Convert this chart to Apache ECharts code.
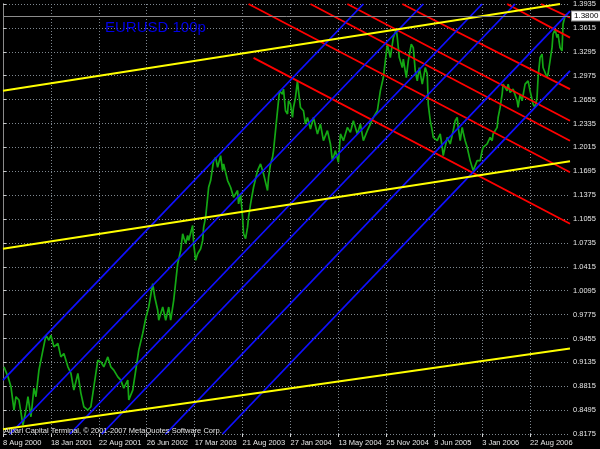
<!DOCTYPE html>
<html>
<head>
<meta charset="utf-8">
<script src="https://cdn.jsdelivr.net/npm/echarts@6/dist/echarts.min.js"></script>
<style>
html,body{margin:0;padding:0;background:#000;}
#chart{width:600px;height:449px;}
</style>
</head>
<body>
<div id="chart"></div>
<script>
// ---- data ----
const BASE = 0.8175;          // lowest price label
const STEP = 0.032;           // price label step
const TOP = 1.3935;           // highest price label
const CURRENT = 1.3800;       // last price
const LAST_BAR = 568;

const dateLabels = ['8 Aug 2000','18 Jan 2001','22 Aug 2001','26 Jun 2002','17 Mar 2003','21 Aug 2003',
  '27 Jan 2004','13 May 2004','25 Nov 2004','9 Jun 2005','3 Jan 2006','22 Aug 2006'];
const dateBars = [0,48,96,144,192,240,288,336,384,432,480,528];

const priceBars = [1,5,8,11,13,16,20,23,25,28,31,33,36,40,43,46,48,51,55,58,61,65,68,71,75,78,81,85,88,91,
  95,98,101,105,108,111,115,118,121,125,126,130,133,136,140,143,146,150,152,155,156,160,163,166,168,171,175,178,180,181,
  183,185,186,190,191,193,195,198,200,201,203,205,206,208,211,213,215,218,220,221,225,228,231,235,236,238,240,241,243,245,
  246,248,251,255,258,261,265,266,268,270,271,273,275,277,280,281,283,285,286,288,290,291,293,295,296,298,301,303,305,308,
  311,315,318,321,325,328,330,333,336,338,341,345,348,351,355,358,361,365,368,371,375,378,381,383,385,388,391,394,395,397,
  400,401,404,406,409,411,413,415,417,420,423,425,426,428,430,431,435,438,440,441,445,448,451,453,455,456,458,460,461,463,
  465,468,471,475,478,480,481,485,488,490,491,495,496,498,500,501,503,505,506,508,511,515,516,518,520,523,526,528,531,533,
  535,536,538,540,541,545,546,548,550,551,553,555,556,558,560,561,563,565];

const priceClose = [0.9075,0.8941,0.8807,0.8496,0.8674,0.8630,0.8295,0.8496,0.8674,0.8406,
  0.8790,0.8674,0.9030,0.9298,0.9498,0.9431,0.9498,0.9342,0.9387,0.9208,
  0.9254,0.9075,0.8990,0.8763,0.8986,0.8723,0.8540,0.8496,0.8540,0.8807,
  0.9164,0.9141,0.9075,0.9208,0.9075,0.9030,0.8941,0.8897,0.8790,0.8897,
  0.8630,0.8763,0.9030,0.9298,0.9525,0.9725,0.9876,1.0189,1.0010,0.9832,
  0.9699,0.9876,0.9699,0.9876,0.9699,0.9966,1.0456,1.0634,1.0857,1.0812,
  1.0728,1.0835,1.0768,1.0968,1.0728,1.0501,1.0590,1.0657,1.0768,1.0946,
  1.1079,1.1346,1.1480,1.1570,1.1837,1.1881,1.1747,1.1904,1.1703,1.1793,
  1.1570,1.1480,1.1346,1.1436,1.1258,1.1392,1.1079,1.0857,1.0791,1.0946,
  1.1079,1.1258,1.1480,1.1703,1.1793,1.1659,1.1436,1.1614,1.1793,1.1881,
  1.1971,1.2238,1.2505,1.2772,1.2728,1.2795,1.2505,1.2461,1.2639,1.2595,
  1.2416,1.2549,1.2683,1.2906,1.2772,1.2549,1.2505,1.2327,1.2416,1.2261,
  1.2416,1.2194,1.2327,1.2104,1.2238,1.2060,1.1837,1.1971,1.1814,1.2194,
  1.2104,1.2282,1.2215,1.2371,1.2194,1.2327,1.2104,1.2238,1.2327,1.2416,
  1.2505,1.2772,1.2950,1.3173,1.3396,1.3217,1.3485,1.3597,1.3485,1.3217,
  1.3084,1.3196,1.2950,1.3173,1.3396,1.3351,1.3040,1.2906,1.3084,1.2862,
  1.3084,1.2996,1.2595,1.2371,1.2238,1.2148,1.2104,1.2194,1.2015,1.1904,
  1.2148,1.2060,1.2238,1.2371,1.2416,1.2282,1.2104,1.2282,1.2215,1.2104,
  1.2015,1.1837,1.1703,1.1837,1.1837,1.1971,1.2015,1.2060,1.2148,1.2104,
  1.2194,1.2282,1.2416,1.2549,1.2728,1.2862,1.2883,1.2772,1.2862,1.2750,
  1.2795,1.2639,1.2549,1.2728,1.2639,1.2862,1.2906,1.2772,1.2595,1.2549,
  1.2683,1.2950,1.3217,1.3263,1.3084,1.2950,1.2996,1.3173,1.3351,1.3530,
  1.3597,1.3485,1.3530,1.3351,1.3307,1.3664,1.3775,1.3800];

// trend lines: [bar1, price1, bar2, price2]
const yellowLines = [
  [0, 1.2772, 558, 1.3935],
  [0, 1.0657, 568, 1.1830],
  [0, 0.8238, 568, 0.9320]
];
const blueLines = [
  [0, 0.8897, 361, 1.3935],
  [7, 0.8175, 421, 1.3935],
  [67, 0.8175, 480, 1.3935],
  [99, 0.8175, 513, 1.3935],
  [163, 0.8175, 568, 1.3841],
  [220, 0.8175, 568, 1.3040]
];
const redLines = [
  [246, 1.3935, 568, 1.1681],
  [251, 1.3213, 568, 1.0991],
  [308, 1.3935, 568, 1.2104],
  [345, 1.3935, 568, 1.2371],
  [400, 1.3935, 568, 1.2795],
  [505, 1.3935, 568, 1.3485],
  [539, 1.3935, 568, 1.3752]
];

const titleText = 'EURUSD 100p';
const copyrightText = 'Alpari Capital Terminal, \u00A9 2001-2007 MetaQuotes Software Corp.';

// ---- chart ----
const FONT = "'Liberation Sans', Arial, sans-serif";
const FS = 7.5;
const chart = echarts.init(document.getElementById('chart'), null, {renderer: 'canvas'});

function lineSeries(lines, color, width) {
  return lines.map(l => ({
    type: 'line',
    data: [[l[0], l[1] - BASE], [l[2], l[3] - BASE]],
    showSymbol: false,
    symbol: 'none',
    silent: true,
    clip: true,
    lineStyle: {color: color, width: width},
    z: 3
  }));
}

const greenData = priceBars.map((b, i) => [b, priceClose[i] - BASE]);

const option = {
  animation: false,
  backgroundColor: '#000000',
  grid: {left: 2, right: 30, top: 3, bottom: 15, containLabel: false},
  xAxis: {
    type: 'value',
    min: 0, max: LAST_BAR, interval: 24,
    axisLine: {show: false},
    axisTick: {show: true, customValues: dateBars, length: 3, lineStyle: {color: '#d0d0d0'}},
    axisLabel: {
      customValues: dateBars, margin: 5, align: 'left',
      color: '#e6e6e6', fontSize: FS, fontFamily: FONT,
      formatter: v => { const i = dateBars.indexOf(Math.round(v)); return i >= 0 ? dateLabels[i] : ''; }
    },
    splitLine: {show: true, lineStyle: {color: '#7f8890', type: [1, 2], width: 1}}
  },
  yAxis: [{
    type: 'value', position: 'right',
    min: 0, max: +(TOP - BASE).toFixed(4), interval: STEP,
    axisLine: {show: true, lineStyle: {color: '#c8c8c8', width: 1}},
    axisTick: {show: true, length: 3, lineStyle: {color: '#c8c8c8'}},
    axisLabel: {margin: 3, color: '#e6e6e6', fontSize: FS, fontFamily: FONT,
      formatter: v => (v + BASE).toFixed(4)},
    splitLine: {show: true, lineStyle: {color: '#7f8890', type: [1, 2], width: 1}}
  }, {
    type: 'value', position: 'left',
    min: 0, max: +(TOP - BASE).toFixed(4), interval: STEP,
    axisLine: {show: true, lineStyle: {color: '#8a8a8a', width: 1}},
    axisTick: {show: false}, axisLabel: {show: false}, splitLine: {show: false}
  }],
  series: [
    {
      type: 'line',
      data: greenData,
      showSymbol: false,
      symbol: 'none',
      lineStyle: {color: '#14a814', width: 1.7},
      z: 2,
      markLine: {
        silent: true,
        symbol: 'none',
        lineStyle: {color: '#8c8c8c', type: 'solid', width: 1},
        label: {
          show: true, position: 'end', distance: 2,
          formatter: () => CURRENT.toFixed(4),
          color: '#000', backgroundColor: '#ffffff', borderColor: '#909090', borderWidth: 1,
          padding: [1, 2, 0, 2], fontSize: 8, fontFamily: FONT
        },
        data: [{yAxis: CURRENT - BASE}]
      }
    },
    ...lineSeries(redLines, '#ff0000', 1.8),
    ...lineSeries(blueLines, '#1010ff', 1.8),
    ...lineSeries(yellowLines, '#ffff00', 2)
  ],
  graphic: [
    {type: 'text', left: 105, top: 20, z: 10, silent: true,
      style: {text: titleText, fill: '#0000e6', font: "15px 'Liberation Sans', Arial, sans-serif"}},
    {type: 'text', left: 4, top: 427, z: 10, silent: true,
      style: {text: copyrightText, fill: '#e6e6e6', font: FS + "px " + FONT}}
  ]
};
chart.setOption(option);
</script>
</body>
</html>
